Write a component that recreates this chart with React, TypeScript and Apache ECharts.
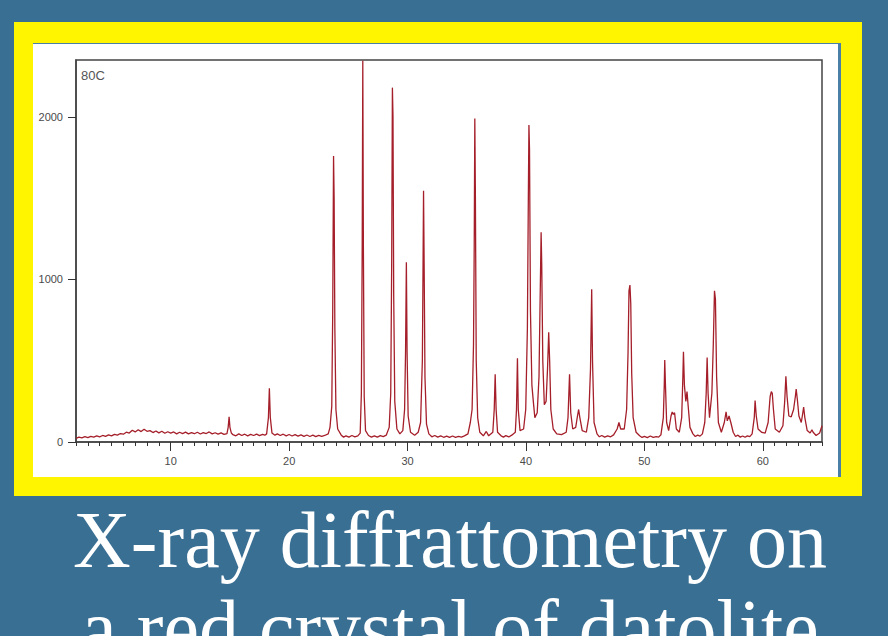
import React, { useEffect, useRef } from "react";
import * as echarts from "echarts";

const xLabelValues = [10, 20, 30, 40, 50, 60];
const yLabelValues = [0, 1000, 2000];
const sampleName = "80C";
const titleLines = ["X-ray diffrattometry on", "a red crystal of datolite"];

// 2θ (degrees), counts
const patternLow: [number, number][] = [
  [2, 22], [2.25, 30], [2.5, 26], [2.75, 33], [3, 27], [3.25, 35], [3.5, 30], [3.75, 38], [4, 32], [4.25, 40],
  [4.5, 35], [4.75, 44], [5, 38], [5.25, 47], [5.5, 42], [5.75, 52], [6, 48], [6.25, 60], [6.5, 55], [6.75, 72],
  [7, 62], [7.25, 75], [7.5, 64], [7.75, 78], [8, 66], [8.25, 70], [8.5, 58], [8.75, 68], [9, 56], [9.25, 66],
  [9.5, 54], [9.75, 63], [10, 55], [10.25, 62], [10.5, 50], [10.75, 60], [11, 52], [11.25, 61], [11.5, 50],
  [11.75, 58], [12, 51], [12.25, 60], [12.5, 49], [12.75, 58], [13, 52], [13.25, 62], [13.5, 50], [13.75, 57],
  [14, 48], [14.25, 56], [14.5, 47],
  [14.75, 52], [14.85, 90], [14.93, 155], [15.0, 90], [15.12, 55],
  [15.25, 45], [15.5, 38], [15.75, 50], [16, 40], [16.25, 48], [16.5, 38], [16.75, 47], [17, 40], [17.25, 48],
  [17.5, 39], [17.75, 47], [17.95, 42],
  [18.1, 50], [18.25, 150], [18.33, 330], [18.41, 150], [18.55, 55],
  [18.8, 42], [19, 50], [19.25, 40], [19.5, 48], [19.75, 38], [20, 46], [20.25, 37], [20.5, 45], [20.75, 36],
  [21, 44], [21.25, 35], [21.5, 43], [21.75, 34], [22, 42], [22.25, 33], [22.5, 41], [22.75, 35], [23, 40], [23.3, 50],
];
const patternMid: [number, number][] = [
  [23.45, 90], [23.6, 220], [23.68, 800], [23.75, 1760], [23.8, 1490], [23.86, 700], [23.95, 200], [24.1, 80], [24.4, 42],
  [24.6, 30], [24.8, 38], [25.05, 30], [25.3, 40], [25.55, 32], [25.8, 38], [26.0, 55],
  [26.1, 300], [26.17, 1200], [26.22, 2345], [26.27, 1200], [26.34, 280], [26.45, 70], [26.7, 40],
  [26.95, 30], [27.2, 38], [27.45, 30], [27.7, 39], [27.95, 33], [28.2, 42], [28.45, 90],
  [28.58, 300], [28.66, 1100], [28.72, 2180], [28.77, 2000], [28.83, 900], [28.92, 250], [29.1, 80], [29.35, 50],
  [29.6, 70], [29.75, 200], [29.83, 550], [29.9, 1105], [29.96, 550], [30.05, 160], [30.25, 60],
  [30.6, 42], [30.9, 60],
  [31.1, 120], [31.25, 500], [31.3, 1000], [31.35, 1545], [31.4, 1100], [31.47, 400], [31.6, 110], [31.8, 50],
  [32.05, 32], [32.3, 40], [32.55, 30], [32.8, 38], [33.05, 29], [33.3, 36], [33.55, 28], [33.8, 37], [34.05, 29],
  [34.3, 35], [34.55, 30], [34.8, 38], [35.1, 50], [35.3, 120],
  [35.45, 200], [35.57, 600], [35.63, 1200], [35.68, 1990], [35.73, 1500], [35.8, 500], [35.92, 150], [36.1, 60], [36.4, 38],
  [36.65, 65], [36.85, 38],
  [37.2, 60], [37.32, 200], [37.4, 416], [37.48, 200], [37.6, 60], [37.9, 38],
  [38.1, 30], [38.3, 39], [38.55, 31], [38.8, 42], [39.1, 60],
  [39.2, 200], [39.28, 515], [39.35, 200], [39.5, 70], [39.8, 80],
];
const patternHigh: [number, number][] = [
  [39.98, 200], [40.12, 700], [40.2, 1500], [40.25, 1950], [40.3, 1800], [40.38, 800], [40.5, 350], [40.62, 250],
  [40.75, 150], [40.95, 180],
  [41.1, 400], [41.2, 900], [41.28, 1290], [41.33, 1100], [41.42, 500], [41.55, 230], [41.7, 250],
  [41.82, 450], [41.92, 675], [42.0, 500], [42.1, 200], [42.3, 80], [42.6, 50],
  [43.0, 45], [43.4, 60],
  [43.55, 150], [43.68, 416], [43.78, 180], [43.95, 80], [44.2, 90],
  [44.35, 160], [44.45, 200], [44.55, 150], [44.75, 70], [45.1, 60], [45.3, 150],
  [45.45, 450], [45.55, 940], [45.62, 500], [45.75, 120], [46.0, 50],
  [46.2, 32], [46.4, 40], [46.65, 30], [46.9, 38], [47.15, 32], [47.4, 44], [47.7, 80],
  [47.85, 120], [48.0, 80], [48.3, 80], [48.5, 200],
  [48.62, 550], [48.7, 930], [48.78, 965], [48.85, 850], [48.93, 420], [49.05, 150], [49.3, 60],
  [49.6, 38], [49.8, 28], [50.0, 35], [50.25, 27], [50.5, 37], [50.75, 28], [51.0, 33], [51.2, 30], [51.4, 45],
  [51.6, 150], [51.68, 350], [51.72, 505], [51.78, 350], [51.88, 120], [52.05, 70],
  [52.25, 160], [52.35, 185], [52.45, 170], [52.55, 180], [52.7, 80], [52.95, 60],
  [53.15, 150], [53.25, 400], [53.3, 555], [53.38, 350], [53.5, 250], [53.6, 310], [53.7, 220], [53.85, 90], [54.1, 50],
  [54.3, 34], [54.5, 42], [54.7, 36], [54.9, 50], [55.1, 120],
  [55.22, 300], [55.3, 520], [55.38, 300], [55.5, 150], [55.7, 300],
  [55.82, 600], [55.92, 930], [56.0, 880], [56.1, 400], [56.25, 120], [56.5, 60],
  [56.75, 120], [56.9, 185], [57.0, 130], [57.15, 160], [57.3, 120], [57.5, 60],
  [57.7, 34], [57.9, 42], [58.1, 30], [58.3, 37], [58.5, 29], [58.7, 38], [58.9, 33], [59.1, 50],
  [59.28, 150], [59.35, 255], [59.45, 160], [59.6, 80], [59.9, 60],
  [60.2, 55], [60.45, 120],
  [60.62, 280], [60.72, 310], [60.8, 300], [60.9, 200], [61.05, 80], [61.4, 60], [61.7, 100],
  [61.85, 250], [61.95, 405], [62.05, 280], [62.2, 160], [62.4, 155], [62.6, 200],
  [62.75, 280], [62.82, 325], [62.92, 260], [63.05, 160], [63.25, 120],
  [63.38, 180], [63.45, 215], [63.55, 150], [63.75, 70], [64.0, 55],
  [64.15, 75], [64.25, 60], [64.5, 40], [64.8, 55], [65, 100],
];

export default function App() {
  const ref = useRef<HTMLDivElement>(null);
  useEffect(() => {
    if (!ref.current) return;
    document.body.style.margin = "0";
    const chart = echarts.init(ref.current, null, { renderer: "svg" });
    const axisFont = {
      fontFamily: "Liberation Sans, Arial, sans-serif",
      fontSize: 11,
      color: "#4a4a4a",
      formatter: (v: number) => String(v),
    };
    chart.setOption({
      animation: false,
      backgroundColor: "#3a6f94",
      grid: {
        left: 76,
        top: 60,
        right: 66,
        bottom: 194,
        show: true,
        borderColor: "#444",
        borderWidth: 1.5,
        backgroundColor: "transparent",
        outerBoundsMode: "none",
      },
      graphic: [
        { type: "rect", z: -20, shape: { x: 14, y: 22, width: 848, height: 474 }, style: { fill: "#fff500" } },
        { type: "rect", z: -19, shape: { x: 33, y: 43, width: 808, height: 434 }, style: { fill: "#4a80a8" } },
        { type: "rect", z: -18, shape: { x: 33, y: 44, width: 805, height: 433 }, style: { fill: "#ffffff" } },
        {
          type: "text",
          z: 10,
          x: 81,
          y: 75,
          style: { text: sampleName, fill: "#555", font: "13px Liberation Sans, Arial, sans-serif", verticalAlign: "middle" },
        },
        {
          type: "text",
          z: 10,
          x: 450,
          y: 540,
          style: {
            text: titleLines[0],
            fill: "#ffffff",
            font: "80px Liberation Serif, Times New Roman, serif",
            align: "center",
            verticalAlign: "middle",
          },
        },
        {
          type: "text",
          z: 10,
          x: 450,
          y: 628,
          style: {
            text: titleLines[1],
            fill: "#ffffff",
            font: "80px Liberation Serif, Times New Roman, serif",
            align: "center",
            verticalAlign: "middle",
          },
        },
      ],
      xAxis: [
        {
          type: "value",
          min: 2,
          max: 65,
          interval: 1,
          position: "bottom",
          axisLine: { show: true, lineStyle: { color: "#444", width: 1.5 } },
          axisTick: { show: true, length: 4, lineStyle: { color: "#333", width: 1 } },
          axisLabel: { show: false },
          splitLine: { show: false },
        },
        {
          type: "value",
          min: 2,
          max: 65,
          position: "bottom",
          axisLine: { show: false },
          axisTick: { show: true, length: 9, customValues: xLabelValues, lineStyle: { color: "#333", width: 1 } },
          axisLabel: { show: true, customValues: xLabelValues, margin: 13, ...axisFont },
          splitLine: { show: false },
        },
      ],
      yAxis: {
        type: "value",
        min: 0,
        max: 2350,
        axisLine: { show: true, lineStyle: { color: "#444", width: 1.5 } },
        axisTick: { show: true, length: 8, customValues: yLabelValues, lineStyle: { color: "#333", width: 1 } },
        axisLabel: { show: true, customValues: yLabelValues, margin: 13, ...axisFont },
        splitLine: { show: false },
      },
      series: [
        {
          type: "line",
          xAxisIndex: 0,
          data: [...patternLow, ...patternMid, ...patternHigh],
          showSymbol: false,
          symbol: "none",
          lineStyle: { color: "#a51f2a", width: 1.3 },
          clip: true,
        },
      ],
    });
    return () => chart.dispose();
  }, []);
  return <div ref={ref} style={{ width: 888, height: 636, position: "fixed", left: 0, top: 0 }} />;
}
